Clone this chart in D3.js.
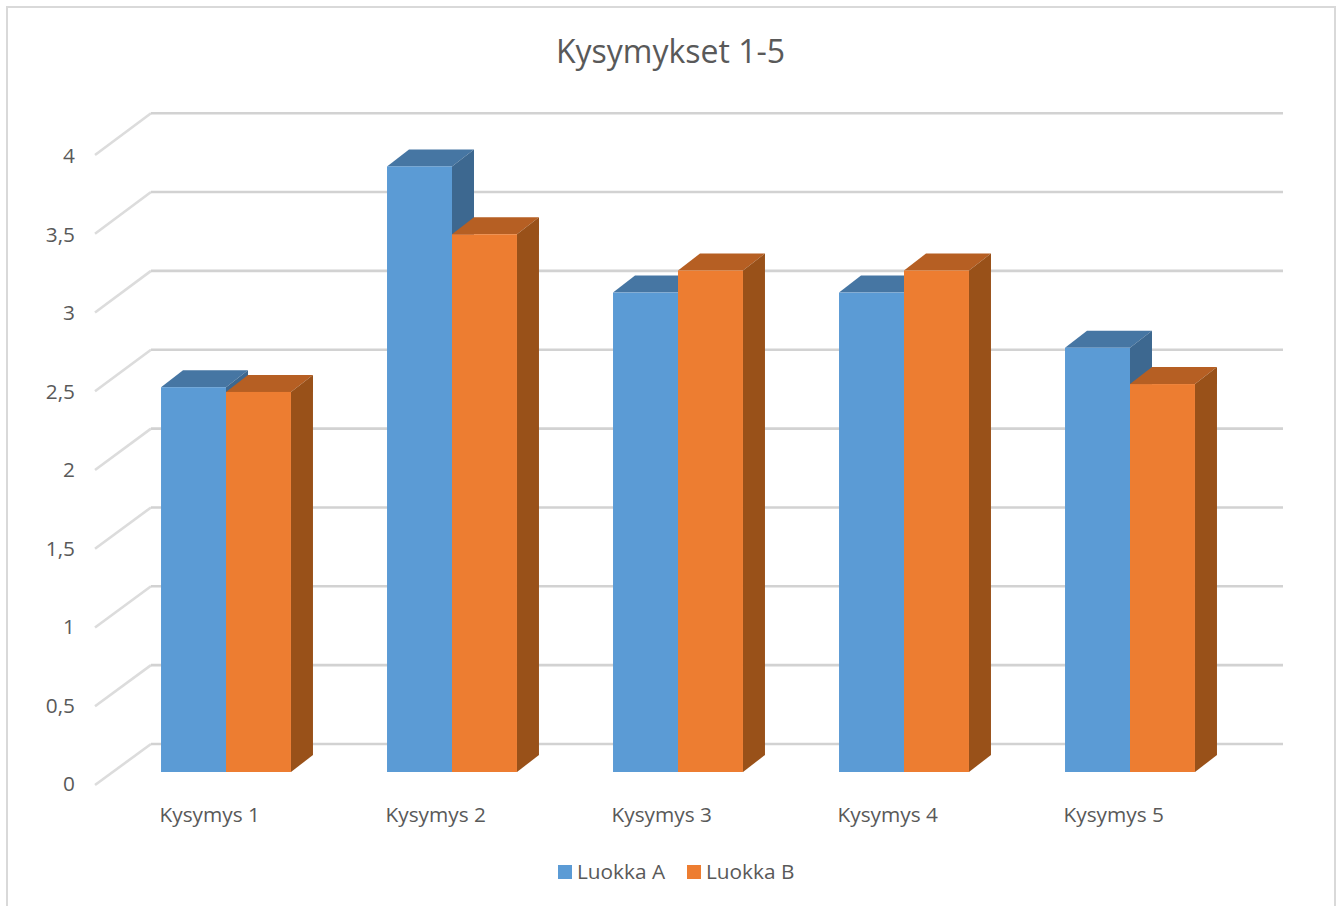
<!DOCTYPE html>
<html>
<head>
<meta charset="utf-8">
<script src="https://cdn.jsdelivr.net/npm/d3@7/dist/d3.min.js"></script>
<style>
html,body{margin:0;padding:0;background:#fff;overflow:hidden}
svg{display:block}
text{font-family:"Open Sans",sans-serif;fill:#595959}
.tick line,.domain{display:none}
</style>
</head>
<body>
<svg id="c" width="1340" height="906"></svg>
<script>
const categories = ["Kysymys 1","Kysymys 2","Kysymys 3","Kysymys 4","Kysymys 5"];
const luokkaA = [2.44,3.84,3.04,3.04,2.69];
const luokkaB = [2.41,3.41,3.18,3.18,2.46];
const yTicks = [0,0.5,1,1.5,2,2.5,3,3.5,4];
const seriesNames = ["Luokka A","Luokka B"];
const titleText = "Kysymykset 1-5";

const svg = d3.select("#c");
const fmt = v => String(v).replace(".", ",");

const depthX = 22, depthY = -17;
const x = d3.scaleBand().domain(categories).range([113,1243]).paddingInner(0.425).paddingOuter(0.2125);
const xs = d3.scaleBand().domain(seriesNames).range([0,x.bandwidth()]);
const y = d3.scaleLinear().domain([0,4]).range([772,141.2]);
const yBack = d3.scaleLinear().domain([0,4]).range([744,113.2]);
const yFront = d3.scaleLinear().domain([0,4]).range([785,155]);
const yLabel = d3.scaleLinear().domain([0,4]).range([784,156]);

const colors = {
  "Luokka A":{front:"#5B9BD5",top:"#4676A3",side:"#3D6890"},
  "Luokka B":{front:"#ED7D31",top:"#B65F23",side:"#995119"}
};

// frame
svg.append("rect").attr("x",7).attr("y",7).attr("width",1328).attr("height",906)
  .attr("fill","#fff").attr("stroke","#d9d9d9").attr("stroke-width",2);

// title
svg.append("text").attr("x",670.5).attr("y",63).attr("text-anchor","middle")
  .style("font-size","32px").text(titleText);

// grid
const grid = svg.append("g").attr("fill","none").attr("stroke-width",2.6);
grid.selectAll("path.side").data(yTicks).join("path").attr("class","side")
  .attr("stroke","#dcdcdc")
  .attr("d",d=>d3.line()([[95,yFront(d)],[151,yBack(d)]]));
grid.selectAll("path.back").data(yTicks).join("path").attr("class","back")
  .attr("stroke","#d2d2d2")
  .attr("d",d=>d3.line()([[151,yBack(d)],[1283,yBack(d)]]));

// y labels
svg.append("g").attr("transform","translate(80,0)")
  .call(d3.axisLeft(yLabel).tickValues(yTicks).tickFormat(fmt).tickSize(0).tickPadding(5))
  .call(g=>g.selectAll("text").style("font-size","20.8px").attr("fill","#595959"));

// bars
const rows = categories.flatMap((c,i)=>[
  {c,s:seriesNames[0],v:luokkaA[i]},
  {c,s:seriesNames[1],v:luokkaB[i]}
]);
const bars = svg.append("g").selectAll("g").data(rows).join("g");
bars.append("path").attr("fill",d=>colors[d.s].top).attr("d",d=>{
  const l=x(d.c)+xs(d.s), r=l+xs.bandwidth(), t=y(d.v);
  return `M${l},${t}L${l+depthX},${t+depthY}L${r+depthX},${t+depthY}L${r},${t}Z`;
});
bars.append("path").attr("fill",d=>colors[d.s].side).attr("d",d=>{
  const r=x(d.c)+xs(d.s)+xs.bandwidth(), t=y(d.v), b=y(0);
  return `M${r},${t}L${r+depthX},${t+depthY}L${r+depthX},${b+depthY}L${r},${b}Z`;
});
bars.append("rect").attr("fill",d=>colors[d.s].front)
  .attr("x",d=>x(d.c)+xs(d.s)).attr("y",d=>y(d.v))
  .attr("width",xs.bandwidth()).attr("height",d=>y(0)-y(d.v));

// x labels
svg.append("g").selectAll("text").data(categories).join("text")
  .attr("x",d=>x(d)-1.5).attr("y",822).style("font-size","20.8px").text(d=>d);

// legend
const lg = svg.append("g").selectAll("g").data(seriesNames).join("g")
  .attr("transform",(d,i)=>`translate(${i?687:558},865)`);
lg.append("rect").attr("width",14).attr("height",14).attr("fill",d=>colors[d].front);
lg.append("text").attr("x",19).attr("y",14).style("font-size","20.8px").text(d=>d);
</script>
</body>
</html>
